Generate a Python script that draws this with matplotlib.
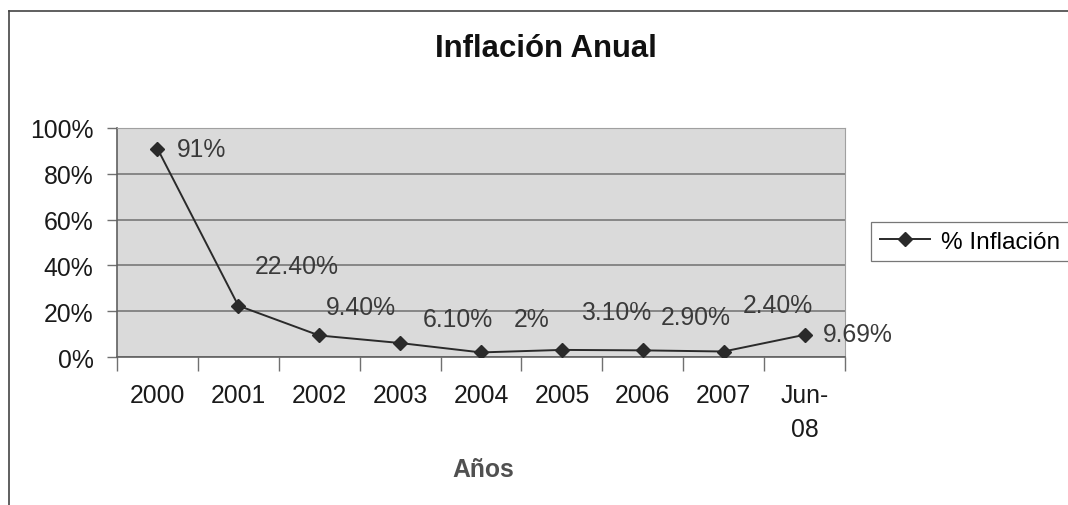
import matplotlib
matplotlib.use("Agg")
import matplotlib.pyplot as plt
from matplotlib.lines import Line2D
from matplotlib.ticker import FuncFormatter, FixedLocator

# datos
years = ["2000", "2001", "2002", "2003", "2004", "2005", "2006", "2007", "Jun-\n08"]
inflation = [91, 22.4, 9.4, 6.1, 2, 3.1, 2.9, 2.4, 9.69]
labels = ["91%", "22.40%", "9.40%", "6.10%", "2%", "3.10%", "2.90%", "2.40%", "9.69%"]

# desplazamiento de cada etiqueta (pixeles), como en el original
label_offsets = [(19, 0), (58, 40), (42, 28), (58, 24), (51, 33), (54, 38), (53, 33), (54, 47), (18, 1)]

plt.rcParams["font.family"] = ["Liberation Sans", "DejaVu Sans"]
W, H = 1068, 506
fs = 17.8
fig = plt.figure(figsize=(W / 100, H / 100), dpi=100, facecolor="white")
ax = fig.add_axes([117 / W, 1 - 358 / H, (845 - 117) / W, (358 - 129) / H])
ax.set_facecolor("#dadada")

x = list(range(len(years)))
ax.plot(x, inflation, color="#2a2a2a", lw=1.4, marker="D", ms=7.5, mfc="#2a2a2a", mec="#2a2a2a",
        label="% Inflación", zorder=3)

for i, (v, lab) in enumerate(zip(inflation, labels)):
    dx, dy = label_offsets[i]
    ha = "left" if i in (0, len(years) - 1) else "center"
    ax.annotate(lab, (i, v), xytext=(dx, dy), textcoords="offset pixels",
                ha=ha, va="center", fontsize=fs, color="#3a3a3a")

ax.set_xlim(-0.5, len(years) - 0.5)
ax.set_ylim(0, 100)
ax.set_yticks([0, 20, 40, 60, 80, 100])
ax.yaxis.set_major_formatter(FuncFormatter(lambda v, p: f"{v:.0f}%"))
ax.yaxis.grid(True, color="#707070", lw=1.1)
ax.set_axisbelow(True)

ax.set_xticks(x)
ax.set_xticklabels(years, fontsize=fs, color="#1a1a1a", linespacing=1.5, va="top")
ax.tick_params(axis="x", which="major", length=0, pad=19)
ax.xaxis.set_minor_locator(FixedLocator([i - 0.5 for i in range(len(years) + 1)]))
ax.tick_params(axis="x", which="minor", length=10, width=1, color="#707070", direction="out")
ax.tick_params(axis="y", length=7, width=1, color="#707070", labelsize=fs, labelcolor="#1a1a1a", pad=10)

for s in ["top", "right"]:
    ax.spines[s].set_color("#a0a0a0")
    ax.spines[s].set_linewidth(0.8)
for s in ["left", "bottom"]:
    ax.spines[s].set_color("#606060")
    ax.spines[s].set_linewidth(1.2)

fig.text(483 / W, 1 - 470 / H, "Años", ha="center", va="center",
         fontsize=fs, fontweight="bold", color="#505050")
fig.text(546 / W, 1 - 49 / H, "Inflación Anual", ha="center", va="center",
         fontsize=22.4, fontweight="bold", color="#111111")

leg = fig.legend(loc="center left", bbox_to_anchor=(871 / W, 1 - 242.5 / H), fontsize=17.6,
                 frameon=True, fancybox=False, edgecolor="#555555", borderpad=0.36,
                 handlelength=2.07, handletextpad=0.45, borderaxespad=0)
leg.get_frame().set_linewidth(0.9)

# marco del grafico
fig.add_artist(Line2D([9 / W, 1], [1 - 12 / H, 1 - 12 / H], color="#444444", lw=1.2))
fig.add_artist(Line2D([9 / W, 9 / W], [0, 1 - 12 / H], color="#444444", lw=1.2))

fig.savefig("out.png", dpi=100, facecolor="white")
